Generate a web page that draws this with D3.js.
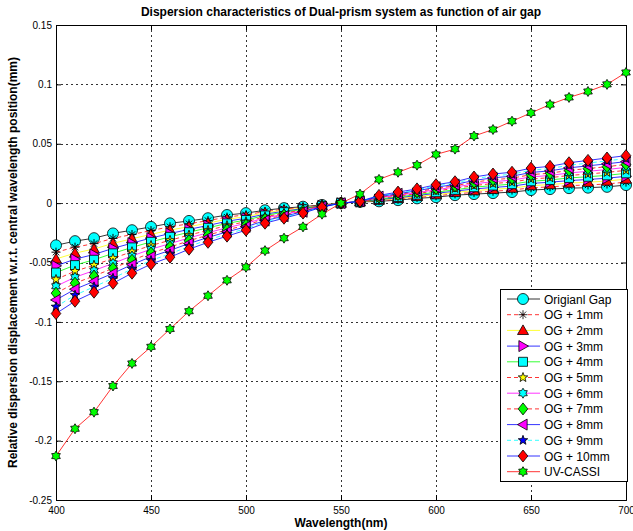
<!DOCTYPE html>
<html>
<head>
<meta charset="utf-8">
<script src="https://cdn.jsdelivr.net/npm/d3@7"></script>
<style>
  body { margin: 0; background: #fff; }
  svg { display: block; font-family: Arial, "Liberation Sans", sans-serif; }
</style>
</head>
<body>
<svg id="chart" width="633" height="531"></svg>
<script>
const WAVELENGTHS = d3.range(400, 701, 10);

const ORIGINAL_GAP = [-0.0355, -0.032, -0.0295, -0.0255, -0.0228, -0.020, -0.017, -0.015, -0.0127, -0.010, -0.0084, -0.006, -0.0042, -0.003, -0.0015, 0, 0.001, 0.0015, 0.0025, 0.004, 0.005, 0.0067, 0.0076, 0.0084, 0.0093, 0.011, 0.0118, 0.0126, 0.013, 0.0137, 0.0152];
const OG_1MM = [-0.0413, -0.0371, -0.0341, -0.0297, -0.0264, -0.0231, -0.0199, -0.0174, -0.0147, -0.0118, -0.0098, -0.0071, -0.0051, -0.0035, -0.0017, 0, 0.0011, 0.0020, 0.0032, 0.0048, 0.0061, 0.0078, 0.0090, 0.0100, 0.0110, 0.0129, 0.0137, 0.0147, 0.0153, 0.0161, 0.0177];
const OG_2MM = [-0.0470, -0.0421, -0.0386, -0.0339, -0.0300, -0.0263, -0.0227, -0.0198, -0.0168, -0.0136, -0.0113, -0.0082, -0.0059, -0.0041, -0.0019, 0, 0.0011, 0.0025, 0.0039, 0.0056, 0.0071, 0.0090, 0.0105, 0.0116, 0.0126, 0.0147, 0.0156, 0.0169, 0.0176, 0.0186, 0.0202];
const OG_3MM = [-0.0528, -0.0472, -0.0432, -0.0381, -0.0337, -0.0294, -0.0256, -0.0221, -0.0188, -0.0153, -0.0127, -0.0093, -0.0068, -0.0046, -0.0021, 0, 0.0012, 0.0030, 0.0045, 0.0064, 0.0082, 0.0101, 0.0119, 0.0132, 0.0143, 0.0166, 0.0176, 0.0190, 0.0199, 0.0210, 0.0226];
const OG_4MM = [-0.0585, -0.0522, -0.0477, -0.0423, -0.0373, -0.0326, -0.0284, -0.0245, -0.0208, -0.0171, -0.0142, -0.0104, -0.0076, -0.0052, -0.0023, 0, 0.0012, 0.0035, 0.0052, 0.0072, 0.0092, 0.0112, 0.0134, 0.0148, 0.0160, 0.0184, 0.0195, 0.0212, 0.0222, 0.0234, 0.0251];
const OG_5MM = [-0.0643, -0.0573, -0.0523, -0.0465, -0.0409, -0.0357, -0.0313, -0.0269, -0.0229, -0.0189, -0.0156, -0.0115, -0.0085, -0.0057, -0.0025, 0, 0.0013, 0.0040, 0.0059, 0.0080, 0.0103, 0.0124, 0.0148, 0.0165, 0.0177, 0.0203, 0.0214, 0.0233, 0.0245, 0.0259, 0.0276];
const OG_6MM = [-0.0700, -0.0624, -0.0568, -0.0507, -0.0445, -0.0388, -0.0341, -0.0293, -0.0249, -0.0207, -0.0170, -0.0125, -0.0093, -0.0062, -0.0026, 0, 0.0013, 0.0045, 0.0066, 0.0088, 0.0113, 0.0135, 0.0162, 0.0181, 0.0193, 0.0221, 0.0233, 0.0254, 0.0268, 0.0283, 0.0301];
const OG_7MM = [-0.0758, -0.0674, -0.0614, -0.0549, -0.0481, -0.0420, -0.0370, -0.0317, -0.0269, -0.0225, -0.0185, -0.0136, -0.0102, -0.0068, -0.0028, 0, 0.0014, 0.0050, 0.0073, 0.0096, 0.0124, 0.0146, 0.0177, 0.0197, 0.0210, 0.0240, 0.0252, 0.0276, 0.0291, 0.0307, 0.0326];
const OG_8MM = [-0.0815, -0.0725, -0.0659, -0.0591, -0.0518, -0.0451, -0.0398, -0.0340, -0.0289, -0.0242, -0.0199, -0.0147, -0.0110, -0.0073, -0.0030, 0, 0.0014, 0.0055, 0.0079, 0.0104, 0.0134, 0.0157, 0.0191, 0.0213, 0.0227, 0.0258, 0.0272, 0.0297, 0.0314, 0.0331, 0.0350];
const OG_9MM = [-0.0873, -0.0775, -0.0705, -0.0633, -0.0554, -0.0483, -0.0427, -0.0364, -0.0310, -0.0260, -0.0214, -0.0158, -0.0119, -0.0079, -0.0032, 0, 0.0015, 0.0060, 0.0086, 0.0112, 0.0145, 0.0169, 0.0206, 0.0229, 0.0243, 0.0277, 0.0291, 0.0319, 0.0337, 0.0356, 0.0375];
const OG_10MM = [-0.093, -0.0826, -0.075, -0.0675, -0.059, -0.0514, -0.0455, -0.0388, -0.033, -0.0278, -0.0228, -0.0169, -0.0127, -0.0084, -0.0034, 0, 0.0015, 0.0065, 0.0093, 0.012, 0.0155, 0.018, 0.022, 0.0245, 0.026, 0.0295, 0.031, 0.034, 0.036, 0.038, 0.040];
const UV_CASSI = [-0.213, -0.190, -0.176, -0.154, -0.135, -0.121, -0.106, -0.091, -0.078, -0.065, -0.054, -0.040, -0.0295, -0.020, -0.0093, 0, 0.0076, 0.020, 0.026, 0.032, 0.041, 0.0455, 0.0565, 0.062, 0.069, 0.076, 0.083, 0.089, 0.094, 0.100, 0.110];

const SERIES_NAMES = ['Origianl Gap', 'OG + 1mm', 'OG + 2mm', 'OG + 3mm', 'OG + 4mm', 'OG + 5mm',
  'OG + 6mm', 'OG + 7mm', 'OG + 8mm', 'OG + 9mm', 'OG + 10mm', 'UV-CASSI'];
const SERIES_VALUES = [ORIGINAL_GAP, OG_1MM, OG_2MM, OG_3MM, OG_4MM, OG_5MM,
  OG_6MM, OG_7MM, OG_8MM, OG_9MM, OG_10MM, UV_CASSI];

const X_TICKS = [400, 450, 500, 550, 600, 650, 700];
const Y_TICKS = [0.15, 0.1, 0.05, 0, -0.05, -0.1, -0.15, -0.2, -0.25];

// matlab-ish styles: line colour, dashed?, marker, marker fill
const STYLES = [
  { line: '#000', dash: null, marker: 'circle', fill: '#00ffff', r: 5.5 },
  { line: '#ff0000', dash: '4,3', marker: 'asterisk', fill: 'none', r: 4.5 },
  { line: '#ffff00', dash: null, marker: 'triangle', fill: '#ff0000', r: 5.5 },
  { line: '#0000ff', dash: null, marker: 'triRight', fill: '#ff00ff', r: 5.5 },
  { line: '#00ff00', dash: null, marker: 'square', fill: '#00ffff', r: 4.5 },
  { line: '#ff0000', dash: '4,3', marker: 'pentagram', fill: '#ffff00', r: 5 },
  { line: '#ff00ff', dash: null, marker: 'hexagram', fill: '#00ffff', r: 5 },
  { line: '#ff0000', dash: '4,3', marker: 'diamond', fill: '#00ff00', r: 6 },
  { line: '#0000ff', dash: null, marker: 'triLeft', fill: '#ff00ff', r: 5.5 },
  { line: '#00ffff', dash: '4,3', marker: 'pentagram', fill: '#0000ff', r: 5 },
  { line: '#0000ff', dash: null, marker: 'diamond', fill: '#ff0000', r: 6 },
  { line: '#ff0000', dash: null, marker: 'hexagram', fill: '#00ff00', r: 5 },
];

const PLOT = { left: 56, right: 626, top: 25, bottom: 500 };

const svg = d3.select('#chart');

const x = d3.scaleLinear().domain([400, 700]).range([PLOT.left, PLOT.right]);
const y = d3.scaleLinear().domain([-0.25, 0.15]).range([PLOT.bottom, PLOT.top]);

function starPath(points, r, inner) {
  const pts = [];
  for (let i = 0; i < points * 2; i++) {
    const a = -Math.PI / 2 + i * Math.PI / points;
    const rr = i % 2 === 0 ? r : r * inner;
    pts.push([rr * Math.cos(a), rr * Math.sin(a)]);
  }
  return 'M' + pts.map(p => p[0].toFixed(2) + ',' + p[1].toFixed(2)).join('L') + 'Z';
}

function markerPath(type, r) {
  switch (type) {
    case 'circle':
      return `M${r},0A${r},${r} 0 1,1 ${-r},0A${r},${r} 0 1,1 ${r},0Z`;
    case 'square':
      return `M${-r},${-r}H${r}V${r}H${-r}Z`;
    case 'triangle':
      return `M0,${-r}L${r},${r * 0.75}L${-r},${r * 0.75}Z`;
    case 'triRight':
      return `M${r},0L${-r * 0.75},${r}L${-r * 0.75},${-r}Z`;
    case 'triLeft':
      return `M${-r},0L${r * 0.75},${r}L${r * 0.75},${-r}Z`;
    case 'diamond':
      return `M0,${-r}L${r * 0.8},0L0,${r}L${-r * 0.8},0Z`;
    case 'pentagram':
      return starPath(5, r, 0.42);
    case 'hexagram':
      return starPath(6, r, 0.6);
    case 'asterisk': {
      const d = r * 0.7;
      return `M0,${-r}V${r}M${-r},0H${r}M${-d},${-d}L${d},${d}M${-d},${d}L${d},${-d}`;
    }
  }
  return '';
}

// grid
const grid = svg.append('g')
  .attr('stroke', '#333')
  .attr('stroke-width', 1)
  .attr('stroke-dasharray', '2,3');
grid.selectAll('line.gx')
  .data(X_TICKS.slice(1, -1))
  .enter().append('line')
  .attr('x1', d => Math.round(x(d)) + 0.5)
  .attr('x2', d => Math.round(x(d)) + 0.5)
  .attr('y1', PLOT.top)
  .attr('y2', PLOT.bottom);
grid.selectAll('line.gy')
  .data(Y_TICKS.slice(1, -1))
  .enter().append('line')
  .attr('y1', d => Math.round(y(d)) + 0.5)
  .attr('y2', d => Math.round(y(d)) + 0.5)
  .attr('x1', PLOT.left)
  .attr('x2', PLOT.right);

// axes with inward ticks
const fmt = d => String(+d.toFixed(2));
const xAxis = svg.append('g')
  .attr('transform', `translate(0,${PLOT.bottom})`)
  .call(d3.axisBottom(x).tickValues(X_TICKS).tickSize(-5).tickPadding(7).tickFormat(fmt));
const yAxis = svg.append('g')
  .attr('transform', `translate(${PLOT.left},0)`)
  .call(d3.axisLeft(y).tickValues(Y_TICKS).tickSize(-5).tickPadding(4).tickFormat(fmt));
svg.append('g')
  .attr('transform', `translate(0,${PLOT.top})`)
  .call(d3.axisTop(x).tickValues(X_TICKS).tickSize(-5).tickFormat(''));
svg.append('g')
  .attr('transform', `translate(${PLOT.right},0)`)
  .call(d3.axisRight(y).tickValues(Y_TICKS).tickSize(-5).tickFormat(''));
svg.selectAll('.domain').attr('stroke', '#000');
svg.selectAll('.tick line').attr('stroke', '#000');
[xAxis, yAxis].forEach(a => a.selectAll('text')
  .attr('fill', '#000')
  .style('font-size', '10px')
  .style('font-family', 'Arial, "Liberation Sans", sans-serif'));

// series
const line = d3.line()
  .x((d, i) => x(WAVELENGTHS[i]))
  .y(d => y(d));

const seriesG = svg.append('g');
SERIES_VALUES.forEach((vals, si) => {
  const st = STYLES[si];
  const g = seriesG.append('g');
  g.append('path')
    .attr('d', line(vals))
    .attr('fill', 'none')
    .attr('stroke', st.line)
    .attr('stroke-width', 0.8)
    .attr('stroke-dasharray', st.dash);
  g.selectAll('path.m')
    .data(vals)
    .enter().append('path')
    .attr('class', 'm')
    .attr('transform', (d, i) => `translate(${x(WAVELENGTHS[i])},${y(d)})`)
    .attr('d', markerPath(st.marker, st.r))
    .attr('fill', st.fill)
    .attr('stroke', '#000')
    .attr('stroke-width', st.marker === 'asterisk' ? 1 : 0.8);
});

// legend
const LEG = { x: 500, y: 289, w: 127, h: 192, row: 15.7 };
const legend = svg.append('g');
legend.append('rect')
  .attr('x', LEG.x + 0.5).attr('y', LEG.y + 0.5)
  .attr('width', LEG.w).attr('height', LEG.h)
  .attr('fill', '#fff').attr('stroke', '#000');
const item = legend.selectAll('g.item')
  .data(SERIES_NAMES)
  .enter().append('g')
  .attr('transform', (d, i) => `translate(${LEG.x},${LEG.y + 10 + i * LEG.row})`);
item.append('line')
  .attr('x1', 7).attr('x2', 40)
  .attr('stroke', (d, i) => STYLES[i].line)
  .attr('stroke-width', 0.8)
  .attr('stroke-dasharray', (d, i) => STYLES[i].dash);
item.append('path')
  .attr('transform', 'translate(23,0)')
  .attr('d', (d, i) => markerPath(STYLES[i].marker, STYLES[i].r))
  .attr('fill', (d, i) => STYLES[i].fill)
  .attr('stroke', '#000')
  .attr('stroke-width', 0.8);
item.append('text')
  .attr('x', 44).attr('y', 4.5)
  .style('font-size', '12px')
  .text(d => d);

// title and labels
svg.append('text')
  .attr('x', (PLOT.left + PLOT.right) / 2).attr('y', 16)
  .attr('text-anchor', 'middle')
  .style('font-size', '12px').style('font-weight', 'bold')
  .text('Dispersion characteristics of Dual-prism system as function of air gap');
svg.append('text')
  .attr('x', (PLOT.left + PLOT.right) / 2).attr('y', 527)
  .attr('text-anchor', 'middle')
  .style('font-size', '12px').style('font-weight', 'bold')
  .text('Wavelength(nm)');
svg.append('text')
  .attr('transform', `translate(17,${(PLOT.top + PLOT.bottom) / 2}) rotate(-90)`)
  .attr('text-anchor', 'middle')
  .style('font-size', '12px').style('font-weight', 'bold')
  .text('Relative dispersion displacement w.r.t. central wavelength position(mm)');
</script>
</body>
</html>
